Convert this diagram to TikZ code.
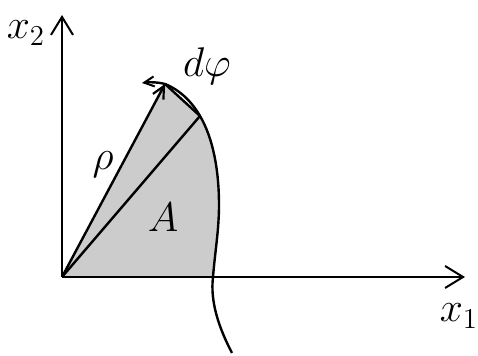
\documentclass[tikz,border=0pt]{standalone}
\usepackage{amsmath}
\usepackage{amssymb}
\definecolor{shadegray}{RGB}{204, 204, 204}
\usetikzlibrary{arrows.meta, positioning}

\tikzset{
  axisline/.style={line width=1pt, -{Straight Barb[length=9pt, width=11pt, line width=1pt]}},
  rayline/.style={line width=1.2pt},
  handlabel/.style={font=\fontsize{21}{24}\selectfont, inner sep=0pt}
}

\begin{document}
\begin{tikzpicture}[x=0.5pt, y=-0.5pt]
  \useasboundingbox (0, 0) rectangle (478, 356);

  % Points
  \coordinate (O) at (62, 277);
  \coordinate (x1end) at (465, 277);
  \coordinate (x2end) at (62, 15);
  \coordinate (cbot) at (232, 353);
  \coordinate (ccross) at (213, 277);
  \coordinate (cmid) at (219, 205);
  \coordinate (cinner) at (200, 116);
  \coordinate (ctip) at (165, 84);
  \coordinate (dphiend) at (142, 83);

  % Area A
  \fill[shadegray] (O) -- (ccross) .. controls (215, 252) and (219, 230) .. (cmid)
    .. controls (219, 170) and (213, 138) .. (cinner) -- (ctip) -- cycle;

  % Axes
  \draw[axisline] (O) -- (x1end);
  \draw[axisline] (O) -- (x2end);

  % Boundary curve
  \draw[rayline] (cbot) .. controls (219, 328) and (210, 302) .. (ccross)
    .. controls (215, 252) and (219, 230) .. (cmid)
    .. controls (219, 170) and (213, 138) .. (cinner)
    .. controls (192, 102) and (180, 90) .. (ctip);

  % Rays
  \draw[rayline, -{Straight Barb[length=6pt, width=6pt, line width=1.1pt]}] (O) -- (ctip);
  \draw[rayline] (O) -- (cinner);
  \draw[rayline] (cinner) -- (ctip);

  % Angle increment
  \draw[rayline, -{Straight Barb[length=5pt, width=5pt, line width=1pt]}] (ctip)
    .. controls (157, 82) and (150, 82) .. (dphiend);

  % Labels
  \node[handlabel] (x2lab) at (26, 33) {$x_2$};
  \node[handlabel] (x1lab) at (459, 316) {$x_1$};
  \node[handlabel] (rholab) at (103, 165) {$\rho$};
  \node[handlabel] (alab) at (163, 217) {$A$};
  \node[handlabel] (dphilab) at (207, 66) {$d\varphi$};
\end{tikzpicture}
\end{document}
